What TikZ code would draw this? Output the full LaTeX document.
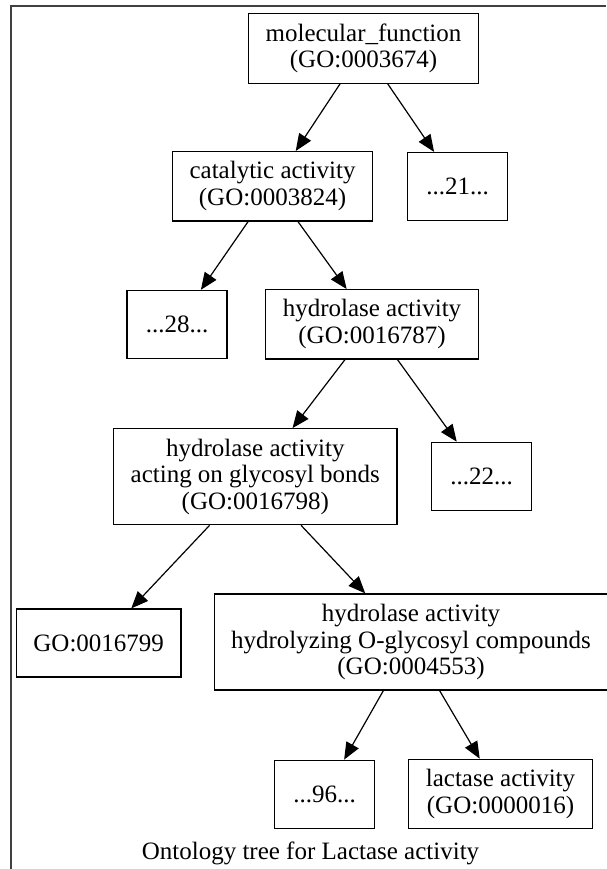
\documentclass[tikz,border=0pt]{standalone}
\usepackage{fontspec}
\setmainfont{Liberation Serif}
\usepackage{tikz}
\usetikzlibrary{arrows.meta,positioning}

\begin{document}
\begin{tikzpicture}[x=1pt,y=-1pt,
  term/.style={draw,rectangle,line width=1.2pt,align=center,
               font=\fontsize{25}{26.7}\selectfont,inner xsep=17pt,
               inner ysep=10pt,minimum height=68pt,minimum width=100pt},
  arr/.style={-{Triangle[length=17pt,width=14pt]},line width=1.2pt},
  frame/.style={draw=black!75,line width=2pt},
  captionlbl/.style={font=\fontsize{25}{26.7}\selectfont,anchor=base}
]
\useasboundingbox (0,0) rectangle (606,869);

%% Page frame (left and top only)
\draw[frame] (10.7,869) -- (10.7,5.7) -- (606,5.7);

%% Ontology terms, top to bottom
\node[term] (mf)  at (363.5, 48.3) {molecular\_function\\(GO:0003674)};
\node[term] (cat) at (272.5,186.3) {catalytic activity\\(GO:0003824)};
\node[term] (n21) at (457.7,186.5) {...21...};
\node[term] (n28) at (177.0,324.4) {...28...};
\node[term] (hyd) at (372.0,324.3) {hydrolase activity\\(GO:0016787)};
\node[term] (glyc) at (255.3,476.7) {hydrolase activity\\acting on glycosyl bonds\\(GO:0016798)};
\node[term] (n22) at (481.7,476.3) {...22...};
\node[term] (g16799) at (98.7,643.0) {GO:0016799};
\node[term] (oglyc) at (411.0,642.0) {hydrolase activity\\hydrolyzing O-glycosyl compounds\\(GO:0004553)};
\node[term] (n96) at (324.5,794.2) {...96...};
\node[term] (lac) at (500.5,794.0) {lactase activity\\(GO:0000016)};

%% Caption
\node[captionlbl] (title) at (310.5,859.3) {Ontology tree for Lactase activity};

%% Parent -> child arrows
\draw[arr] (mf)   -- (cat);
\draw[arr] (mf)   -- (n21);
\draw[arr] (cat)  -- (n28);
\draw[arr] (cat)  -- (hyd);
\draw[arr] (hyd)  -- (glyc);
\draw[arr] (hyd)  -- (n22);
\draw[arr] (glyc) -- (g16799);
\draw[arr] (glyc) -- (oglyc);
\draw[arr] (oglyc) -- (n96);
\draw[arr] (oglyc) -- (lac);
\end{tikzpicture}
\end{document}
